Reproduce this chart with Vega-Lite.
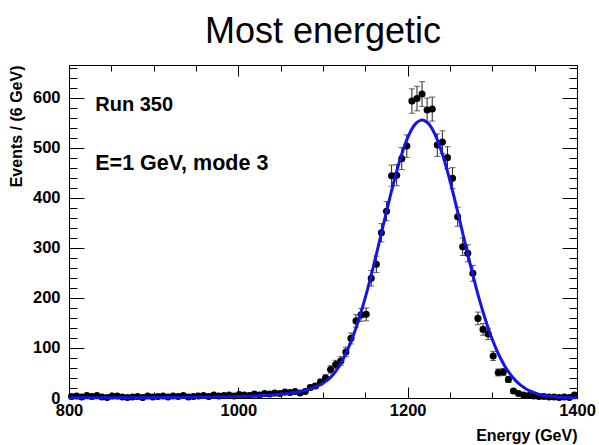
{
 "$schema": "https://vega.github.io/schema/vega-lite/v6.json",
 "width": 508, "height": 333,
 "autosize": {"type": "none"},
 "padding": {"left": 69, "top": 65, "right": 22, "bottom": 47},
 "background": "white",
 "title": {"text": "Most energetic", "font": "Liberation Sans", "fontSize": 36, "fontWeight": "normal", "color": "black", "anchor": "middle", "baseline": "alphabetic", "offset": 23, "dy": 37},
 "config": {
  "view": {"stroke": "black", "strokeWidth": 1},
  "axis": {"grid": false, "domain": false, "labelFont": "Liberation Sans", "labelFontWeight": "bold", "labelFontSize": 16.5, "labelColor": "black", "titleFont": "Liberation Sans", "titleFontWeight": "bold", "titleFontSize": 15, "titleColor": "black", "tickColor": "black", "tickWidth": 1, "labelFlush": false, "labelOverlap": false, "format": "d"}
 },
 "datasets": {
  "hist": [
   {"E":803,"n":3,"err":1.7},{"E":809,"n":4,"err":2},{"E":815,"n":2,"err":1.4},{"E":821,"n":5,"err":2.2},{"E":827,"n":3,"err":1.7},
   {"E":833,"n":5,"err":2.2},{"E":839,"n":2,"err":1.4},{"E":845,"n":1,"err":1},{"E":851,"n":4,"err":2},{"E":857,"n":4,"err":2},
   {"E":863,"n":2,"err":1.4},{"E":869,"n":1,"err":1},{"E":875,"n":2,"err":1.4},{"E":881,"n":3,"err":1.7},{"E":887,"n":1,"err":1},
   {"E":893,"n":4,"err":2},{"E":899,"n":2,"err":1.4},{"E":905,"n":3,"err":1.7},{"E":911,"n":4,"err":2},{"E":917,"n":2,"err":1.4},
   {"E":923,"n":4,"err":2},{"E":929,"n":3,"err":1.7},{"E":935,"n":5,"err":2.2},{"E":941,"n":2,"err":1.4},{"E":947,"n":3,"err":1.7},
   {"E":953,"n":4,"err":2},{"E":959,"n":5,"err":2.2},{"E":965,"n":3,"err":1.7},{"E":971,"n":6,"err":2.4},{"E":977,"n":4,"err":2},
   {"E":983,"n":5,"err":2.2},{"E":989,"n":6,"err":2.4},{"E":995,"n":4,"err":2},{"E":1001,"n":7,"err":2.6},{"E":1007,"n":6,"err":2.4},
   {"E":1013,"n":5,"err":2.2},{"E":1019,"n":8,"err":2.8},{"E":1025,"n":6,"err":2.4},{"E":1031,"n":9,"err":3},{"E":1037,"n":8,"err":2.8},
   {"E":1043,"n":10,"err":3.2},{"E":1049,"n":9,"err":3},{"E":1055,"n":12,"err":3.5},{"E":1061,"n":11,"err":3.3},{"E":1067,"n":13,"err":3.6},
   {"E":1073,"n":10,"err":3.2},{"E":1079,"n":13,"err":3.6},{"E":1085,"n":21,"err":4.6},{"E":1091,"n":24,"err":4.9},{"E":1097,"n":32,"err":5.7},
   {"E":1103,"n":40,"err":6.3},{"E":1109,"n":57,"err":7.5},{"E":1115,"n":67,"err":8.2},{"E":1121,"n":74,"err":8.6},{"E":1127,"n":92,"err":9.6},
   {"E":1133,"n":119,"err":10.9},{"E":1139,"n":154,"err":12.4},{"E":1145,"n":166,"err":12.9},{"E":1151,"n":167,"err":12.9},{"E":1157,"n":239,"err":15.5},
   {"E":1163,"n":267,"err":16.3},{"E":1169,"n":330,"err":18.2},{"E":1175,"n":373,"err":19.3},{"E":1181,"n":444,"err":21.1},{"E":1187,"n":445,"err":21.1},
   {"E":1193,"n":478,"err":21.9},{"E":1199,"n":503,"err":22.4},{"E":1205,"n":593,"err":24.4},{"E":1211,"n":598,"err":24.5},{"E":1217,"n":607,"err":24.6},
   {"E":1223,"n":575,"err":24},{"E":1229,"n":577,"err":24},{"E":1235,"n":505,"err":22.5},{"E":1241,"n":511,"err":22.6},{"E":1247,"n":480,"err":21.9},
   {"E":1253,"n":439,"err":21},{"E":1259,"n":362,"err":19},{"E":1265,"n":302,"err":17.4},{"E":1271,"n":289,"err":17},{"E":1277,"n":249,"err":15.8},
   {"E":1283,"n":159,"err":12.6},{"E":1289,"n":137,"err":11.7},{"E":1295,"n":128,"err":11.3},{"E":1301,"n":84,"err":9.2},{"E":1307,"n":51,"err":7.1},
   {"E":1313,"n":52,"err":7.2},{"E":1319,"n":37,"err":6.1},{"E":1325,"n":14,"err":3.7},{"E":1331,"n":9,"err":3},{"E":1337,"n":6,"err":2.4},
   {"E":1343,"n":5,"err":2.2},{"E":1349,"n":4,"err":2},{"E":1355,"n":3,"err":1.7},{"E":1361,"n":3,"err":1.7},{"E":1367,"n":2,"err":1.4},
   {"E":1373,"n":2,"err":1.4},{"E":1379,"n":1,"err":1},{"E":1385,"n":2,"err":1.4},{"E":1391,"n":1,"err":1},{"E":1397,"n":6,"err":2.4}
  ],
  "fit": [
   {"E":800,"f":0.3},{"E":825,"f":0.4},{"E":850,"f":0.5},{"E":875,"f":0.6},{"E":900,"f":0.8},{"E":920,"f":1.0},{"E":940,"f":1.25},
   {"E":960,"f":1.6},{"E":980,"f":2.1},{"E":1000,"f":2.9},{"E":1020,"f":4.1},{"E":1030,"f":4.9},{"E":1040,"f":6.0},{"E":1050,"f":7.5},
   {"E":1060,"f":9.4},{"E":1070,"f":12.0},{"E":1080,"f":15.8},{"E":1085,"f":18.3},{"E":1090,"f":21.3},{"E":1095,"f":25.0},{"E":1100,"f":29.7},
   {"E":1105,"f":35.6},{"E":1110,"f":43.1},{"E":1115,"f":53.0},{"E":1120,"f":65.9},{"E":1125,"f":81.8},{"E":1130,"f":100.1},{"E":1135,"f":121.1},
   {"E":1140,"f":145.0},{"E":1145,"f":171.7},{"E":1150,"f":200.9},{"E":1155,"f":232.5},{"E":1160,"f":266.0},{"E":1165,"f":301.0},{"E":1170,"f":336.6},
   {"E":1175,"f":372.3},{"E":1180,"f":407.1},{"E":1185,"f":440.2},{"E":1190,"f":470.6},{"E":1195,"f":497.4},{"E":1200,"f":519.9},{"E":1205,"f":537.2},
   {"E":1210,"f":548.9},{"E":1215,"f":554.5},{"E":1217,"f":555},{"E":1220,"f":553.9},{"E":1225,"f":547.0},{"E":1230,"f":534.2},{"E":1235,"f":515.7},
   {"E":1240,"f":492.4},{"E":1245,"f":464.7},{"E":1250,"f":433.7},{"E":1255,"f":400.3},{"E":1260,"f":365.2},{"E":1265,"f":329.5},{"E":1270,"f":293.8},
   {"E":1275,"f":259.2},{"E":1280,"f":226.1},{"E":1285,"f":194.8},{"E":1290,"f":166.2},{"E":1295,"f":140.0},{"E":1300,"f":116.7},{"E":1305,"f":96.2},
   {"E":1310,"f":78.3},{"E":1315,"f":63.1},{"E":1320,"f":50.3},{"E":1325,"f":39.6},{"E":1330,"f":30.8},{"E":1335,"f":23.7},{"E":1340,"f":18.1},
   {"E":1345,"f":13.6},{"E":1350,"f":10.1},{"E":1360,"f":5.4},{"E":1370,"f":2.8},{"E":1380,"f":1.4},{"E":1390,"f":0.6},{"E":1400,"f":0.3}
  ]
 },
 "resolve": {"axis": {"x": "independent", "y": "independent"}},
 "layer": [
  {
   "data": {"name": "fit"},
   "mark": {"type": "point", "opacity": 0},
   "encoding": {
    "x": {"field": "E", "type": "quantitative", "scale": {"domain": [800, 1400], "nice": false, "zero": false},
          "axis": {"orient": "bottom", "values": [800, 1000, 1200, 1400], "ticks": false, "labelPadding": 4, "title": "Energy (GeV)", "titleAnchor": "end", "titlePadding": 9, "titleFontSize": 16}},
    "y": {"field": "f", "type": "quantitative", "scale": {"domain": [0, 665], "nice": false, "zero": true},
          "axis": {"orient": "left", "values": [0, 100, 200, 300, 400, 500, 600], "ticks": false, "labelPadding": 9, "title": "Events / (6 GeV)", "titleAnchor": "end", "titlePadding": 8, "titleFontSize": 16}}
   }
  },
  {
   "data": {"name": "fit"},
   "mark": {"type": "point", "opacity": 0},
   "encoding": {
    "x": {"field": "E", "type": "quantitative", "axis": {"orient": "bottom", "values": [800, 1000, 1200, 1400], "labels": false, "tickSize": -11, "title": null}},
    "y": {"field": "f", "type": "quantitative", "axis": {"orient": "left", "values": [0, 100, 200, 300, 400, 500, 600], "labels": false, "tickSize": -15, "title": null}}
   }
  },
  {
   "data": {"name": "fit"},
   "mark": {"type": "point", "opacity": 0},
   "encoding": {
    "x": {"field": "E", "type": "quantitative", "axis": {"orient": "bottom", "values": [850, 900, 950, 1050, 1100, 1150, 1250, 1300, 1350], "labels": false, "tickSize": -6, "title": null}},
    "y": {"field": "f", "type": "quantitative", "axis": {"orient": "left", "values": [20, 40, 60, 80, 120, 140, 160, 180, 220, 240, 260, 280, 320, 340, 360, 380, 420, 440, 460, 480, 520, 540, 560, 580, 620, 640, 660], "labels": false, "tickSize": -8, "title": null}}
   }
  },
  {
   "data": {"name": "fit"},
   "mark": {"type": "point", "opacity": 0},
   "encoding": {
    "x": {"field": "E", "type": "quantitative", "axis": {"orient": "top", "values": [800, 1000, 1200, 1400], "labels": false, "tickSize": -11, "title": null}},
    "y": {"field": "f", "type": "quantitative", "axis": {"orient": "right", "values": [0, 100, 200, 300, 400, 500, 600], "labels": false, "tickSize": -15, "title": null}}
   }
  },
  {
   "data": {"name": "fit"},
   "mark": {"type": "point", "opacity": 0},
   "encoding": {
    "x": {"field": "E", "type": "quantitative", "axis": {"orient": "top", "values": [850, 900, 950, 1050, 1100, 1150, 1250, 1300, 1350], "labels": false, "tickSize": -6, "title": null}},
    "y": {"field": "f", "type": "quantitative", "axis": {"orient": "right", "values": [20, 40, 60, 80, 120, 140, 160, 180, 220, 240, 260, 280, 320, 340, 360, 380, 420, 440, 460, 480, 520, 540, 560, 580, 620, 640, 660], "labels": false, "tickSize": -8, "title": null}}
   }
  },
  {
   "data": {"name": "hist"},
   "mark": {"type": "errorbar", "ticks": {"size": 6, "color": "#222"}, "color": "#222", "thickness": 1},
   "encoding": {
    "x": {"field": "E", "type": "quantitative", "axis": null},
    "y": {"field": "n", "type": "quantitative", "axis": null},
    "yError": {"field": "err"}
   }
  },
  {
   "data": {"name": "hist"},
   "mark": {"type": "circle", "size": 50, "color": "black", "opacity": 1},
   "encoding": {
    "x": {"field": "E", "type": "quantitative", "axis": null},
    "y": {"field": "n", "type": "quantitative", "axis": null}
   }
  },
  {
   "data": {"name": "fit"},
   "mark": {"type": "line", "color": "#1414e6", "strokeWidth": 3, "interpolate": "monotone"},
   "encoding": {
    "x": {"field": "E", "type": "quantitative", "axis": null},
    "y": {"field": "f", "type": "quantitative", "axis": null}
   }
  },
  {
   "data": {"values": [{}]},
   "mark": {"type": "text", "text": "Run 350", "align": "left", "baseline": "middle", "font": "Liberation Sans", "fontWeight": "bold", "fontSize": 20, "color": "black"},
   "encoding": {
    "x": {"datum": 831, "type": "quantitative", "axis": null},
    "y": {"datum": 586, "type": "quantitative", "axis": null}
   }
  },
  {
   "data": {"values": [{}]},
   "mark": {"type": "text", "text": "E=1 GeV, mode 3", "align": "left", "baseline": "middle", "font": "Liberation Sans", "fontWeight": "bold", "fontSize": 21.5, "color": "black"},
   "encoding": {
    "x": {"datum": 831, "type": "quantitative", "axis": null},
    "y": {"datum": 467, "type": "quantitative", "axis": null}
   }
  }
 ]
}
